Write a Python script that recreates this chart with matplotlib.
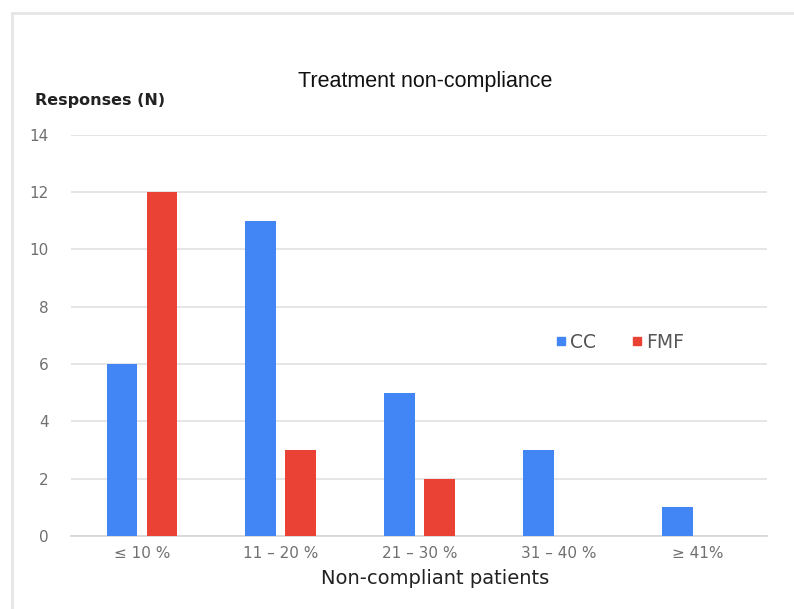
import matplotlib.pyplot as plt
from matplotlib.lines import Line2D
import numpy as np

# data
categories = ['≤ 10 %', '11 – 20 %', '21 – 30 %', '31 – 40 %', '≥ 41%']
cc_values = [6, 11, 5, 3, 1]
fmf_values = [12, 3, 2, 0, 0]
y_ticks = [0, 2, 4, 6, 8, 10, 12, 14]

BLUE = '#4285f4'
RED = '#ea4335'
GRID = '#e0e0e0'
TICK = '#707070'

plt.rcParams['font.family'] = ['DejaVu Sans']

fig = plt.figure(figsize=(7.94, 6.09), dpi=100)
ax = fig.add_axes([71 / 794, 1 - 536 / 609, (767 - 71) / 794, (536 - 134.6) / 609])

x = np.arange(len(categories))
width = 0.22
offset = 0.144
ax.bar(x - offset, cc_values, width, color=BLUE, zorder=3)
ax.bar(x + offset, fmf_values, width, color=RED, zorder=3)

ax.set_xlim(-0.51, 4.50)
ax.set_ylim(0, 14)
ax.set_yticks(y_ticks)
ax.yaxis.grid(True, color=GRID, linewidth=1.2, zorder=0)
ax.set_axisbelow(True)
for s in ['top', 'right', 'left']:
    ax.spines[s].set_visible(False)
ax.spines['bottom'].set_color('#d6d6d6')
ax.spines['bottom'].set_linewidth(1.2)
ax.tick_params(axis='both', length=0, colors=TICK, labelsize=11)
ax.tick_params(axis='y', pad=16)
ax.tick_params(axis='x', pad=7)
ax.set_xticks(x)
ax.set_xticklabels(categories)

# axis titles placed like the original screenshot
fig.text(435 / 794, 1 - 578 / 609, 'Non-compliant patients', ha='center', va='center',
         fontsize=14, color='#222222')
fig.text(425 / 794, 1 - 81 / 609, 'Treatment non-compliance', ha='center', va='center',
         fontsize=15.5, color='#111111', family='Liberation Sans')
fig.text(35 / 794, 1 - 100 / 609, 'Responses (N)', ha='left', va='center',
         fontsize=11.5, color='#222222', fontweight='bold')

# legend
handles = [Line2D([], [], marker='s', linestyle='none', color=BLUE, markersize=6),
           Line2D([], [], marker='s', linestyle='none', color=RED, markersize=6)]
leg = ax.legend(handles, ['CC', 'FMF'], ncol=2, frameon=False, fontsize=13.5,
                loc='center', bbox_to_anchor=(0.787, 0.483), handletextpad=0.1,
                columnspacing=1.8, handlelength=0.8)
for t in leg.get_texts():
    t.set_color('#555555')

# screenshot frame
fig.add_artist(Line2D([12 / 794, 1], [1 - 13 / 609, 1 - 13 / 609], color='#e6e6e6', linewidth=2))
fig.add_artist(Line2D([12 / 794, 12 / 794], [0, 1 - 13 / 609], color='#e6e6e6', linewidth=2))

fig.savefig('out.png', dpi=100)
